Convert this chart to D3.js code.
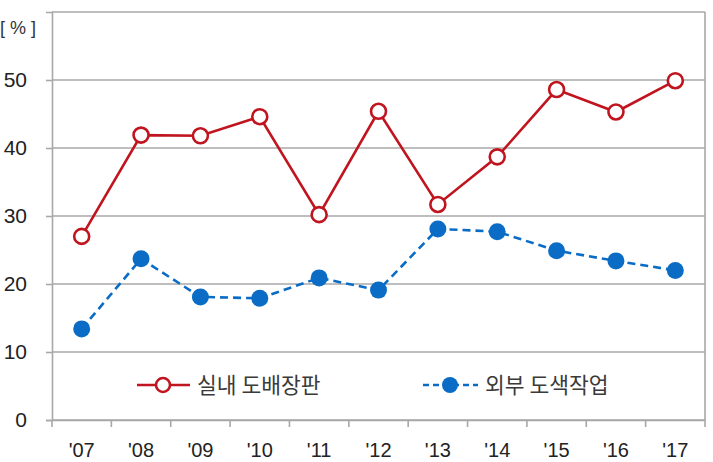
<!DOCTYPE html>
<html><head><meta charset="utf-8">
<script src="https://cdn.jsdelivr.net/npm/d3@7"></script>
<style>body{margin:0;background:#fff}svg{display:block}</style>
</head><body>
<svg id="c" width="713" height="462"></svg>
<script>
const years = ["'07","'08","'09","'10","'11","'12","'13","'14","'15","'16","'17"];
const indoor = [27.0,41.9,41.8,44.6,30.2,45.4,31.7,38.7,48.6,45.3,49.9];
const outdoor = [13.4,23.7,18.1,17.9,20.9,19.1,28.1,27.7,24.9,23.4,22.0];
const yTicks = [0,10,20,30,40,50];
const seriesNames = ["실내 도배장판","외부 도색작업"];
const colors = ["#c0141e","#0a6cc4"];

const svg = d3.select("#c");
const L=52,R=705,T=12,B=420;
const x = d3.scaleBand().domain(years).range([L,R]).padding(0);
const y = d3.scaleLinear().domain([0,60]).range([B,T]);
const grid="#a8a8a8";
const font="'Liberation Sans', Arial, 'Noto Sans CJK KR', sans-serif";

// gridlines
svg.append("g").selectAll("line").data(yTicks.concat([60])).join("line")
  .attr("x1",L).attr("x2",R).attr("y1",d=>y(d)).attr("y2",d=>y(d))
  .attr("stroke",grid).attr("stroke-width",1.6);
svg.append("line").attr("x1",R).attr("x2",R).attr("y1",T).attr("y2",B).attr("stroke",grid).attr("stroke-width",1.6);

// y axis
const ya = svg.append("g").attr("transform",`translate(${L},0)`)
  .call(d3.axisLeft(y).tickValues(yTicks).tickSize(6).tickPadding(19).tickFormat(d3.format("d")));
ya.select(".domain").attr("stroke",grid).attr("stroke-width",1.6);
ya.selectAll(".tick line").attr("stroke",grid).attr("stroke-width",1.6);
ya.selectAll("text").attr("font-family",font).attr("font-size",21).attr("fill","#222");

// x axis
const xa = svg.append("g").attr("transform",`translate(0,${B})`)
  .call(d3.axisBottom(x).tickSize(0).tickPadding(23));
xa.select(".domain").attr("stroke",grid).attr("stroke-width",1.6);
xa.selectAll("text").attr("font-family",font).attr("font-size",20).attr("fill","#222");
svg.append("g").selectAll("line").data(years.concat(["end"])).join("line")
  .attr("x1",(d,i)=>i<years.length?x(d):R).attr("x2",(d,i)=>i<years.length?x(d):R)
  .attr("y1",B).attr("y2",B+7).attr("stroke",grid).attr("stroke-width",1.6);

// unit label
svg.append("text").attr("x",0).attr("y",34).attr("font-family",font).attr("font-size",18).attr("fill","#333").text("[ % ]");

const cx = d => x(d)+x.bandwidth()/2;
const line = d3.line().x(d=>cx(d[0])).y(d=>y(d[1]));

const outPts = years.map((d,i)=>[d,outdoor[i]]);
const inPts = years.map((d,i)=>[d,indoor[i]]);

svg.append("path").datum(outPts).attr("d",line).attr("fill","none")
  .attr("stroke",colors[1]).attr("stroke-width",2.6).attr("stroke-dasharray","8,5");
svg.append("g").selectAll("circle").data(outPts).join("circle")
  .attr("cx",d=>cx(d[0])).attr("cy",d=>y(d[1])).attr("r",8.5).attr("fill",colors[1]);

svg.append("path").datum(inPts).attr("d",line).attr("fill","none")
  .attr("stroke",colors[0]).attr("stroke-width",2.6);
svg.append("g").selectAll("circle").data(inPts).join("circle")
  .attr("cx",d=>cx(d[0])).attr("cy",d=>y(d[1])).attr("r",7.5).attr("fill","#fff")
  .attr("stroke",colors[0]).attr("stroke-width",2.6);

// legend
const lg = [{x1:137,x2:190,mx:163,tx:197},{x1:423,x2:478,mx:450,tx:485}];
const ly=385;
lg.forEach((g,i)=>{
  svg.append("line").attr("x1",g.x1).attr("x2",g.x2).attr("y1",ly).attr("y2",ly)
    .attr("stroke",colors[i]).attr("stroke-width",2.6).attr("stroke-dasharray",i?"6,4":null);
  if(i===0) svg.append("circle").attr("cx",g.mx).attr("cy",ly).attr("r",7).attr("fill","#fff").attr("stroke",colors[0]).attr("stroke-width",2.6);
  else svg.append("circle").attr("cx",g.mx).attr("cy",ly).attr("r",8).attr("fill",colors[1]);
  svg.append("text").attr("x",g.tx).attr("y",ly).attr("dy","0.36em").attr("font-family","'Noto Sans CJK KR', sans-serif")
    .attr("font-size",21.5).attr("fill","#3a3a3a").text(seriesNames[i]);
});
</script>
</body></html>
